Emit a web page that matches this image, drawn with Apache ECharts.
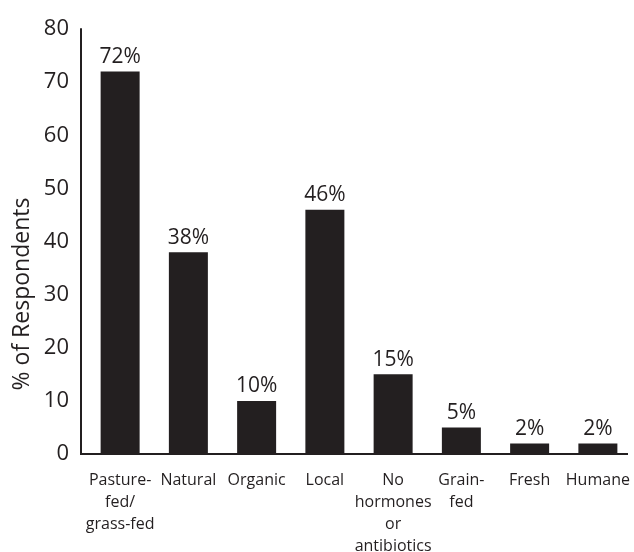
<!DOCTYPE html>
<html>
<head>
<meta charset="utf-8">
<script src="https://cdn.jsdelivr.net/npm/echarts@6/dist/echarts.min.js"></script>
<style>
  html, body { margin: 0; padding: 0; background: #fff; }
  #chart { width: 634px; height: 552px; }
</style>
</head>
<body>
<div id="chart"></div>
<script>
// Claims respondents look for, share of respondents (%)
const categories = [
  'Pasture-\nfed/\ngrass-fed',
  'Natural',
  'Organic',
  'Local',
  'No\nhormones\nor\nantibiotics',
  'Grain-\nfed',
  'Fresh',
  'Humane'
];
const respondents = [72, 38, 10, 46, 15, 5, 2, 2];
const yTicks = [0, 10, 20, 30, 40, 50, 60, 70, 80];
const yTitle = '% of Respondents';

const ink = '#231f20';
const font = '"Open Sans", "DejaVu Sans", sans-serif';

const chart = echarts.init(document.getElementById('chart'), null, { renderer: 'canvas' });

chart.setOption({
  animation: false,
  backgroundColor: '#ffffff',
  grid: {
    left: 86, right: 2, top: 29, bottom: 98,
    containLabel: false,
    outerBoundsMode: 'none'
  },
  xAxis: {
    type: 'category',
    data: categories,
    axisLine: { show: false },
    axisTick: { show: false },
    axisLabel: {
      interval: 0,
      margin: 15,
      color: ink,
      fontFamily: font,
      fontSize: 16,
      lineHeight: 22,
      align: 'center',
      verticalAlign: 'top'
    }
  },
  yAxis: {
    type: 'value',
    min: yTicks[0],
    max: yTicks[yTicks.length - 1],
    interval: yTicks[1] - yTicks[0],
    offset: 5,
    axisLine: { show: true, lineStyle: { color: ink, width: 2 } },
    axisTick: { show: false },
    splitLine: { show: false },
    axisLabel: {
      margin: 12,
      color: ink,
      fontFamily: font,
      fontSize: 22
    }
  },
  series: [{
    type: 'bar',
    data: respondents,
    barWidth: 39,
    itemStyle: { color: ink },
    label: {
      show: true,
      position: 'top',
      distance: 4,
      color: ink,
      fontFamily: font,
      fontSize: 21,
      formatter: p => p.value + '%'
    }
  }]
});

// Baseline along the value axis zero, joined to the vertical axis line
const y0 = chart.convertToPixel({ yAxisIndex: 0 }, yTicks[0]);
chart.setOption({
  graphic: [
    {
      type: 'line',
      shape: { x1: 80, y1: y0, x2: 628, y2: y0 },
      style: { stroke: ink, lineWidth: 2 }
    },
    {
      type: 'text',
      x: 22,
      y: 294,
      rotation: Math.PI / 2,
      style: {
        text: yTitle,
        fill: ink,
        font: '23px ' + font,
        align: 'center',
        verticalAlign: 'middle'
      }
    }
  ]
});
</script>
</body>
</html>
